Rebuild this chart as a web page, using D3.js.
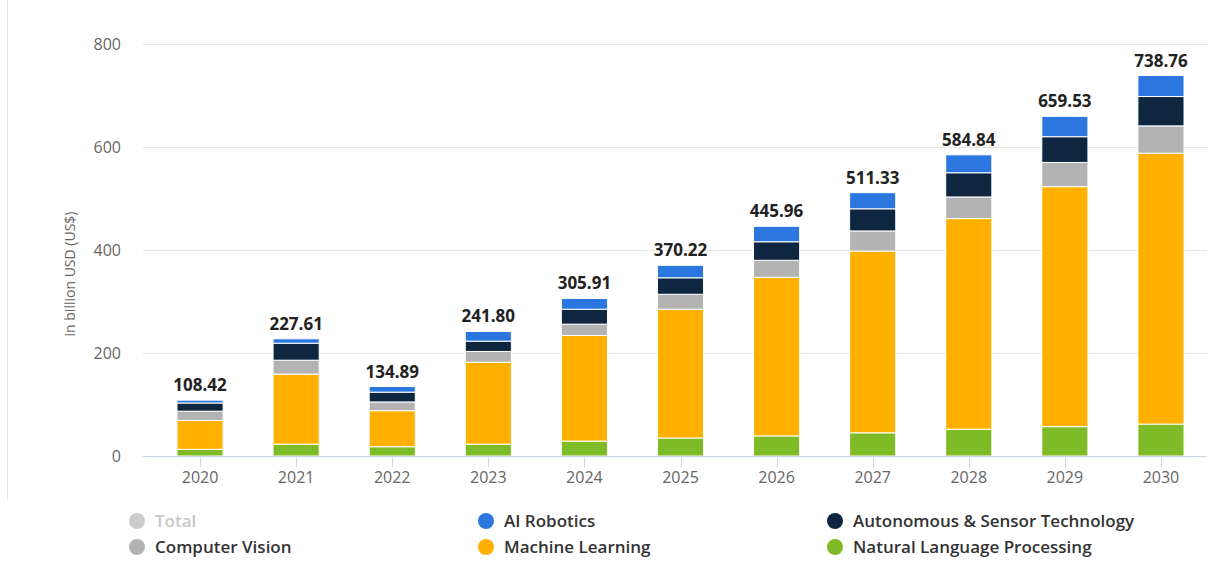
<!DOCTYPE html>
<html>
<head>
<meta charset="utf-8">
<script src="https://cdn.jsdelivr.net/npm/d3@7"></script>
<style>
  html, body { margin: 0; padding: 0; background: #fff; }
  svg { display: block; font-family: "Open Sans", "DejaVu Sans", sans-serif; }
</style>
</head>
<body>
<svg id="chart" width="1211" height="588"></svg>
<script>
    "use strict";
    // data (billion USD)
    var years = ["2020", "2021", "2022", "2023", "2024", "2025", "2026", "2027", "2028", "2029", "2030"];
    var totals = [108.42, 227.61, 134.89, 241.80, 305.91, 370.22, 445.96, 511.33, 584.84, 659.53, 738.76];
    var nlp = [13, 23, 18, 23, 29, 35, 39, 45, 52, 57, 62];
    var machineLearning = [56, 136, 70, 159, 205, 250, 308, 353, 409, 466, 526];
    var computerVision = [18, 27, 17, 21, 22, 29, 33, 39, 42, 47, 53];
    var autonomous = [16, 33, 19, 20, 29, 32, 36, 43, 47, 50, 57];
    var robotics = [5.4, 8.6, 10.9, 18.8, 20.9, 24.2, 30, 31.3, 34.8, 39.5, 40.8];
    var yTicks = [0, 200, 400, 600, 800];

    // bottom to top stacking order
    var series = [
        {name: "Natural Language Processing", values: nlp, color: "#7fba27"},
        {name: "Machine Learning", values: machineLearning, color: "#ffb000"},
        {name: "Computer Vision", values: computerVision, color: "#b3b3b3"},
        {name: "Autonomous & Sensor Technology", values: autonomous, color: "#0f2640"},
        {name: "AI Robotics", values: robotics, color: "#2b77df"}
    ];

    var legendItems = [
        {name: "Total", color: "#cccccc", text: "#c8c8c8"},
        {name: "AI Robotics", color: "#2b77df", text: "#333"},
        {name: "Autonomous & Sensor Technology", color: "#0f2640", text: "#333"},
        {name: "Computer Vision", color: "#b3b3b3", text: "#333"},
        {name: "Machine Learning", color: "#ffb000", text: "#333"},
        {name: "Natural Language Processing", color: "#7fba27", text: "#333"}
    ];

    var svg = d3.select("#chart");

    var x = d3.scaleBand().domain(years).range([152, 1209]).paddingInner(0.52).paddingOuter(0.26);
    var y = d3.scaleLinear().domain([0, 800]).range([456, 44]);

    // left frame line
    svg.append("line").attr("x1", 7.5).attr("x2", 7.5).attr("y1", 0).attr("y2", 500)
        .attr("stroke", "#e8e8e8").attr("stroke-width", 1);

    // grid lines
    svg.append("g").selectAll("line").data(yTicks.slice(1)).join("line")
        .attr("x1", 143).attr("x2", 1207)
        .attr("y1", function (d) { return Math.round(y(d)) + 0.5; })
        .attr("y2", function (d) { return Math.round(y(d)) + 0.5; })
        .attr("stroke", "#e6e6e6");

    // y tick labels
    svg.append("g").selectAll("text").data(yTicks).join("text")
        .attr("x", 121).attr("y", function (d) { return y(d) + 5.5; })
        .attr("text-anchor", "end").attr("fill", "#666").style("font-size", "16px")
        .text(function (d) { return d; });

    // y axis title
    svg.append("text").attr("transform", "translate(75,274) rotate(-90)")
        .attr("text-anchor", "middle").attr("fill", "#666").style("font-size", "14px")
        .text("in billion USD (US$)");

    // stacked bars
    var stacked = years.map(function (yr, i) {
        var base = 0;
        return series.map(function (s) {
            var seg = {year: yr, y0: base, y1: base + s.values[i], color: s.color};
            base += s.values[i];
            return seg;
        });
    });

    svg.append("g").selectAll("g").data(stacked).join("g")
        .selectAll("rect").data(function (d) { return d; }).join("rect")
        .attr("x", function (d) { return x(d.year); })
        .attr("width", x.bandwidth())
        .attr("y", function (d) { return y(d.y1); })
        .attr("height", function (d) { return y(d.y0) - y(d.y1); })
        .attr("fill", function (d) { return d.color; })
        .attr("stroke", "#fff").attr("stroke-width", 1);

    // x axis baseline and ticks
    svg.append("line").attr("x1", 143).attr("x2", 1207).attr("y1", 456.5).attr("y2", 456.5)
        .attr("stroke", "#ccd6eb");
    svg.append("g").selectAll("line").data(years).join("line")
        .attr("x1", function (d) { return Math.round(x(d) + x.bandwidth() / 2) + 0.5; })
        .attr("x2", function (d) { return Math.round(x(d) + x.bandwidth() / 2) + 0.5; })
        .attr("y1", 457).attr("y2", 467)
        .attr("stroke", "#ccd6eb");
    svg.append("g").selectAll("text").data(years).join("text")
        .attr("x", function (d) { return x(d) + x.bandwidth() / 2; })
        .attr("y", 483).attr("text-anchor", "middle")
        .attr("fill", "#666").style("font-size", "16px")
        .text(function (d) { return d; });

    // total labels
    svg.append("g").selectAll("text").data(years).join("text")
        .attr("x", function (d) { return x(d) + x.bandwidth() / 2; })
        .attr("y", function (d, i) { return y(totals[i]) - 9; })
        .attr("text-anchor", "middle").attr("fill", "#222")
        .style("font-size", "17px").style("font-weight", "700")
        .text(function (d, i) { return totals[i].toFixed(2); });

    // legend
    var legendX = [137, 486, 835], legendY = [521, 547];
    var leg = svg.append("g").selectAll("g").data(legendItems).join("g")
        .attr("transform", function (d, i) {
            return "translate(" + legendX[i % 3] + "," + legendY[Math.floor(i / 3)] + ")";
        });
    leg.append("circle").attr("r", 8).attr("fill", function (d) { return d.color; });
    leg.append("text").attr("x", 18).attr("y", 6)
        .attr("fill", function (d) { return d.text; })
        .style("font-size", "17px").style("font-weight", "600")
        .text(function (d) { return d.name; });
</script>
</body>
</html>
